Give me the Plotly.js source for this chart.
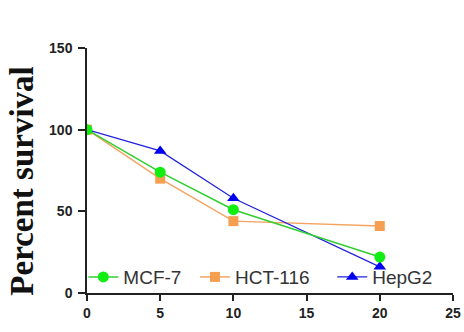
<!DOCTYPE html>
<html><head><script src="https://cdn.plot.ly/plotly-3.0.1.min.js"></script>
<style>body{margin:0;background:#fff}</style></head>
<body><div id="c" style="width:464px;height:332px"></div>
<script>
const conc = [0, 5, 10, 20];
const mcf7 = [100, 74, 51, 22];
const hct116 = [100, 70, 44, 41];
const hepg2 = [100, 87, 58, 16];
const names = ["MCF-7", "HCT-116", "HepG2"];
const tr = [
  {x: conc, y: hct116, name: names[1], legend: "legend2", mode: "lines+markers", line: {color: "#f4a460", width: 1.5}, marker: {symbol: "square", size: 10, color: "#f4a050"}},
  {x: conc, y: hepg2, name: names[2], legend: "legend3", mode: "lines+markers", line: {color: "#2020e0", width: 1.2}, marker: {symbol: "triangle-up", size: 11, color: "#0000ee"}},
  {x: conc, y: mcf7, name: names[0], legend: "legend", mode: "lines+markers", line: {color: "#30d030", width: 1.5}, marker: {symbol: "circle", size: 11, color: "#11ee11"}}
];
const lf = {family: "Liberation Sans, Arial", size: 19, color: "#333"};
const leg = (x) => ({orientation: "h", x: x, y: 0.065, xanchor: "left", yanchor: "middle", font: lf, bgcolor: "rgba(0,0,0,0)", borderwidth: 0});
const tf = {family: "Liberation Sans, Arial", size: 14, color: "#222", weight: "bold"};
Plotly.newPlot("c", tr, {
  width: 464, height: 332,
  margin: {l: 87, r: 11, t: 48, b: 39},
  paper_bgcolor: "#fff", plot_bgcolor: "#fff",
  showlegend: true,
  legend: leg(-0.01),
  legend2: leg(0.295),
  legend3: leg(0.67),
  xaxis: {range: [0, 25], tickvals: [0, 5, 10, 15, 20, 25], showgrid: false, zeroline: false, showline: true,
          linecolor: "#222", linewidth: 1.5, ticks: "outside", ticklen: 6, tickwidth: 1.5, tickcolor: "#222",
          tickfont: tf},
  yaxis: {range: [0, 150], tickvals: [0, 50, 100, 150], showgrid: false, zeroline: false, showline: true,
          linecolor: "#222", linewidth: 1.5, ticks: "outside", ticklen: 7, tickwidth: 1.5, tickcolor: "#222",
          tickfont: tf, ticklabelstandoff: 3},
  annotations: [{text: "<b>Percent survival</b>", xref: "paper", yref: "paper", x: -0.18, y: 0.455,
                 xanchor: "center", yanchor: "middle", textangle: -90, showarrow: false,
                 font: {family: "Liberation Serif, Times New Roman", size: 33, color: "#111"}}]
}, {displayModeBar: false});
</script></body></html>
